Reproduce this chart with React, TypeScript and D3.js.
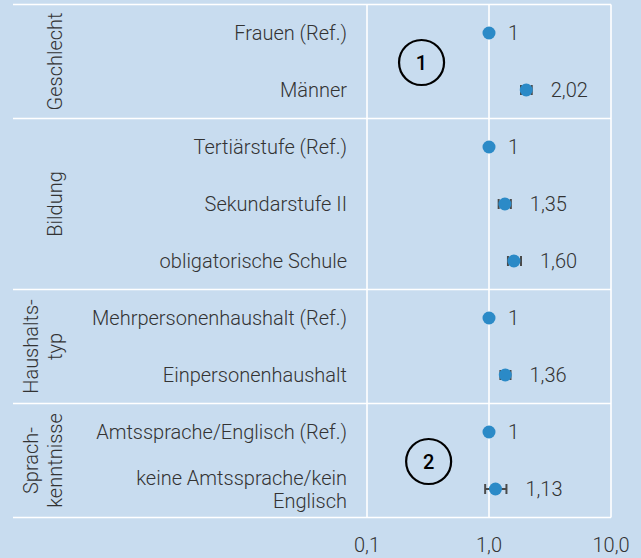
import React, { useEffect, useRef } from 'react';
import * as d3 from 'd3';

const groupNames = [['Geschlecht'], ['Bildung'], ['Haushalts-', 'typ'], ['Sprach-', 'kenntnisse']];
const groupOf = [0, 0, 1, 1, 1, 2, 2, 3, 3];
const categories = [
  ['Frauen (Ref.)'],
  ['Männer'],
  ['Tertiärstufe (Ref.)'],
  ['Sekundarstufe II'],
  ['obligatorische Schule'],
  ['Mehrpersonenhaushalt (Ref.)'],
  ['Einpersonenhaushalt'],
  ['Amtssprache/Englisch (Ref.)'],
  ['keine Amtssprache/kein', 'Englisch'],
];
const oddsRatios = [1, 2.02, 1, 1.35, 1.6, 1, 1.36, 1, 1.13];
const ciLow = [null, 1.83, null, 1.2, 1.43, null, 1.24, null, 0.93];
const ciHigh = [null, 2.24, null, 1.51, 1.83, null, 1.5, null, 1.39];
const valueLabels = ['1', '2,02', '1', '1,35', '1,60', '1', '1,36', '1', '1,13'];
const xTicks = [0.1, 1, 10];
const tickLabels = ['0,1', '1,0', '10,0'];
const markerLabels = ['1', '2'];
const markerX = [0.28, 0.32];
const markerAfterRow = [0, 7];

const W = 641;
const H = 558;
const FONT = 'Roboto, sans-serif';

export default function App() {
  const ref = useRef<SVGSVGElement>(null);

  useEffect(() => {
    const svg = d3.select(ref.current);
    svg.selectAll('*').remove();

    svg.append('rect').attr('width', W).attr('height', H).attr('fill', '#c8dcef');

    const x = d3.scaleLog().domain([0.1, 10]).range([367, 611]);
    const y = d3.scaleBand<number>()
      .domain(d3.range(categories.length))
      .range([4.5, 517.5])
      .padding(0);
    const yc = (i: number) => (y(i) as number) + y.bandwidth() / 2;

    // grid: vertical lines at ticks
    svg.append('g')
      .selectAll('line')
      .data(xTicks)
      .enter()
      .append('line')
        .attr('x1', (d) => x(d))
        .attr('x2', (d) => x(d))
        .attr('y1', y.range()[0])
        .attr('y2', y.range()[1])
        .attr('stroke', '#fff')
        .attr('stroke-width', 1.6);

    // group boundaries
    const bounds = [0];
    groupOf.forEach((g, i) => {
      if (i > 0 && g !== groupOf[i - 1]) bounds.push(i);
    });
    const hLines = bounds.map((i) => y(i) as number).concat([y.range()[1]]);
    svg.append('g')
      .selectAll('line')
      .data(hLines)
      .enter()
      .append('line')
        .attr('x1', 13)
        .attr('x2', x(10))
        .attr('y1', (d) => d)
        .attr('y2', (d) => d)
        .attr('stroke', '#fff')
        .attr('stroke-width', 1.6);

    // group labels (rotated)
    groupNames.forEach((lines, g) => {
      const rows = d3.range(groupOf.length).filter((i) => groupOf[i] === g);
      const top = y(rows[0]) as number;
      const bottom = (y(rows[rows.length - 1]) as number) + y.bandwidth();
      const cy = (top + bottom) / 2;
      lines.forEach((line, k) => {
        const bx = 62 - (lines.length - 1 - k) * 24;
        svg.append('text')
          .attr('transform', `translate(${bx},${cy}) rotate(-90)`)
          .attr('text-anchor', 'middle')
          .attr('font-family', FONT)
          .attr('font-weight', 300)
          .attr('font-size', 20)
          .attr('fill', '#333')
          .text(line);
      });
    });

    // category labels
    categories.forEach((lines, i) => {
      lines.forEach((line, k) => {
        svg.append('text')
          .attr('x', 347)
          .attr('y', yc(i) + (k - (lines.length - 1) / 2) * 23)
          .attr('dy', '0.35em')
          .attr('text-anchor', 'end')
          .attr('font-family', FONT)
          .attr('font-weight', 300)
          .attr('font-size', 20)
          .attr('fill', '#333')
          .text(line);
      });
    });

    // error bars
    const rowsWithCi = d3.range(oddsRatios.length).filter((i) => ciLow[i] != null);
    const eb = svg.append('g').attr('stroke', '#4a4a4a').attr('stroke-width', 2).attr('fill', 'none');
    rowsWithCi.forEach((i) => {
      const lo = x(ciLow[i] as number);
      const hi = x(ciHigh[i] as number);
      const cy = yc(i);
      eb.append('line').attr('x1', lo).attr('x2', hi).attr('y1', cy).attr('y2', cy);
      eb.append('line').attr('x1', lo).attr('x2', lo).attr('y1', cy - 5).attr('y2', cy + 5);
      eb.append('line').attr('x1', hi).attr('x2', hi).attr('y1', cy - 5).attr('y2', cy + 5);
    });

    // points
    svg.append('g')
      .selectAll('circle')
      .data(oddsRatios)
      .enter()
      .append('circle')
        .attr('cx', (d) => x(d))
        .attr('cy', (d, i) => yc(i))
        .attr('r', 6.5)
        .attr('fill', '#2b8ac7');

    // value labels
    svg.append('g')
      .selectAll('text')
      .data(valueLabels)
      .enter()
      .append('text')
        .attr('x', (d, i) => x(ciHigh[i] ?? oddsRatios[i]) + 19)
        .attr('y', (d, i) => yc(i))
        .attr('dy', '0.35em')
        .attr('font-family', FONT)
        .attr('font-weight', 300)
        .attr('font-size', 20)
        .attr('fill', '#333')
        .text((d) => d);

    // circled markers
    markerLabels.forEach((label, k) => {
      const cx = x(markerX[k]);
      const cy = (yc(markerAfterRow[k]) + yc(markerAfterRow[k] + 1)) / 2 + 1;
      svg.append('circle')
        .attr('cx', cx)
        .attr('cy', cy)
        .attr('r', 22.5)
        .attr('fill', 'none')
        .attr('stroke', '#000')
        .attr('stroke-width', 2.2);
      svg.append('text')
        .attr('x', cx)
        .attr('y', cy)
        .attr('dy', '0.35em')
        .attr('text-anchor', 'middle')
        .attr('font-family', FONT)
        .attr('font-weight', 500)
        .attr('font-size', 20)
        .attr('fill', '#000')
        .text(label);
    });

    // x axis tick labels
    svg.append('g')
      .selectAll('text')
      .data(xTicks)
      .enter()
      .append('text')
        .attr('x', (d) => x(d))
        .attr('y', 552)
        .attr('text-anchor', 'middle')
        .attr('font-family', FONT)
        .attr('font-weight', 300)
        .attr('font-size', 20)
        .attr('fill', '#333')
        .text((d, i) => tickLabels[i]);
  }, []);

  return (
    <>
      <style>{'body{margin:0;background:#c8dcef}'}</style>
      <svg ref={ref} width={W} height={H} style={{ display: 'block' }} />
    </>
  );
}
